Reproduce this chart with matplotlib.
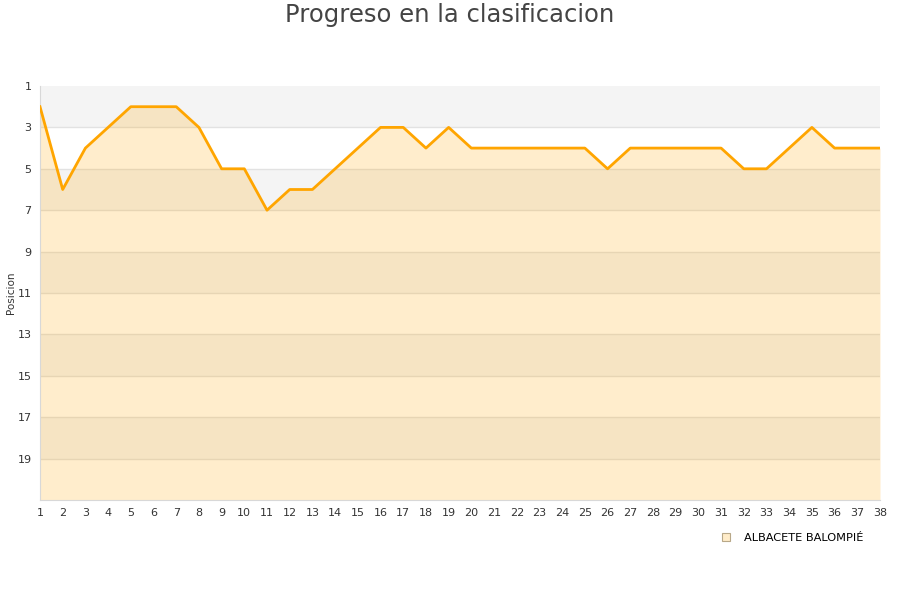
import matplotlib
matplotlib.use("Agg")
import matplotlib.pyplot as plt
from matplotlib.lines import Line2D

jornadas = list(range(1, 39))
posiciones = [2, 6, 4, 3, 2, 2, 2, 3, 5, 5, 7, 6, 6, 5, 4, 3, 3, 4, 3, 4,
              4, 4, 4, 4, 4, 5, 4, 4, 4, 4, 4, 5, 5, 4, 3, 4, 4, 4]
equipo = "ALBACETE BALOMPIÉ"
y_ticks = list(range(1, 21, 2))
n_equipos = 21

fig = plt.figure(figsize=(9, 6), dpi=100)
ax = fig.add_axes([40/900, 100/600, 840/900, 414/600])

# alternating bands
for i, y0 in enumerate(range(1, n_equipos, 2)):
    col = "#f4f4f4" if i % 2 == 0 else "#ffffff"
    ax.axhspan(y0, y0 + 2, color=col, zorder=0, lw=0)
for y in y_ticks[1:]:
    ax.axhline(y, color="#e2e2e2", lw=1, zorder=1)

ax.fill_between(jornadas, posiciones, n_equipos, color="#ffa500", alpha=0.2, lw=0, zorder=2)
ax.plot(jornadas, posiciones, color="#ffa500", lw=2, zorder=3)

ax.set_xlim(1, 38)
ax.set_ylim(n_equipos, 1)
ax.set_xticks(jornadas)
ax.set_yticks(y_ticks)
ax.tick_params(length=0, labelsize=8, colors="#333333", pad=6)
for s in ["top", "right"]:
    ax.spines[s].set_visible(False)
for s in ["left", "bottom"]:
    ax.spines[s].set_color("#d8d8d8")
fig.text(11/900, 1 - 293/600, "Posicion", fontsize=7.5, color="#333333",
         rotation=90, ha="center", va="center")

fig.text(0.5, 1 - 15/600, "Progreso en la clasificacion", fontsize=17.5,
         color="#444444", ha="center", va="center")

handle = Line2D([], [], marker="s", linestyle="none", markersize=6,
                markerfacecolor="#ffecc9", markeredgecolor="#b8a888", markeredgewidth=0.8)
fig.legend([handle], [equipo], loc="center", bbox_to_anchor=(789/900, 1 - 538/600),
           frameon=False, fontsize=8.2, handletextpad=0.6)

fig.savefig("out.png", dpi=100)
